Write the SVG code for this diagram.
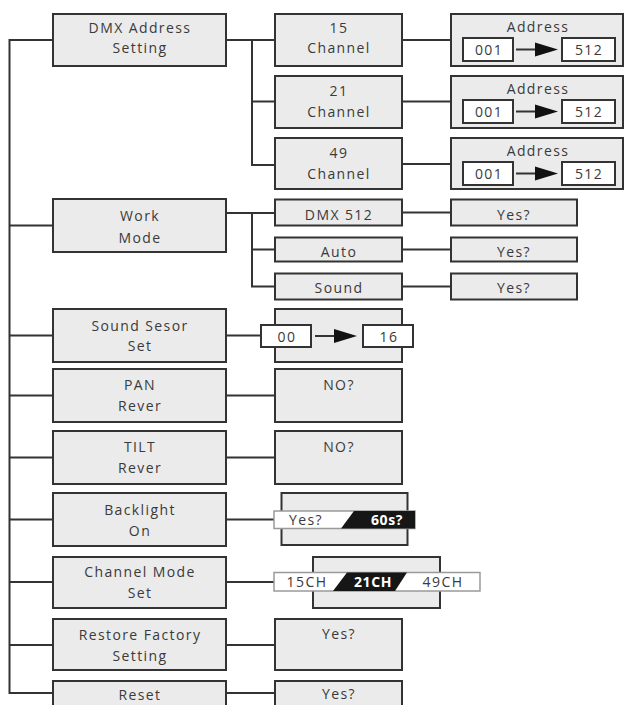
<svg xmlns="http://www.w3.org/2000/svg" width="624" height="705" viewBox="0 0 624 705">
<defs>
<style>
.box{fill:#ebebeb;stroke:#333;stroke-width:2}
.wbox{fill:#fff;stroke:#333;stroke-width:2}
.bar{fill:#fff;stroke:#9a9a9a;stroke-width:1.5}
.ln{stroke:#333;stroke-width:2;fill:none}
.t{font-family:"Open Sans","Liberation Sans",sans-serif;font-size:14px;letter-spacing:1.4px;fill:#3a3a3a;text-anchor:middle}
.tw{fill:#fff;font-weight:bold;letter-spacing:0.6px}
.ah{fill:#111}
</style>
</defs>
<rect width="624" height="705" fill="#fff"/>
<g id="connectors">
<path class="ln" d="M53,40H9.5V693H53"/>
<path class="ln" d="M9.5,225.5H53M9.5,335.5H53M9.5,395.5H53M9.5,457.5H53M9.5,519.5H53M9.5,582H53M9.5,645H53"/>
<path class="ln" d="M226,40H275M252,40V165H275M252,101.5H275"/>
<path class="ln" d="M402,40H451M402,101.5H451M402,164H451"/>
<path class="ln" d="M226,213H275M252,213V286.5H275M252,249.5H275"/>
<path class="ln" d="M402,212.5H451M402,249.5H451M402,286.5H451"/>
<path class="ln" d="M226,335.5H261M226,395.5H275M226,457.5H275M226,519.5H274M226,582H274M226,645H275M226,693H275"/>
</g>
<g id="dmx-address">
<rect class="box" x="53" y="14" width="173" height="52"/>
<text class="t" x="140" y="32.5">DMX Address</text>
<text class="t" x="140" y="53">Setting</text>
</g>
<g id="ch15">
<rect class="box" x="275" y="14" width="127" height="52"/>
<text class="t" x="339" y="33.3">15</text>
<text class="t" x="339" y="53.3">Channel</text>
</g>
<g id="ch21">
<rect class="box" x="275" y="76" width="127" height="52"/>
<text class="t" x="339" y="95.7">21</text>
<text class="t" x="339" y="116.7">Channel</text>
</g>
<g id="ch49">
<rect class="box" x="275" y="138" width="127" height="51"/>
<text class="t" x="339" y="158.3">49</text>
<text class="t" x="339" y="179">Channel</text>
</g>
<g id="addr15">
<rect class="box" x="451" y="14" width="172" height="52"/>
<text class="t" x="538" y="31.7">Address</text>
<rect class="wbox" x="463" y="38" width="50" height="23"/>
<text class="t" x="489" y="55">001</text>
<path class="ln" d="M516,49.5H538"/>
<polygon class="ah" points="535,42.5 558,49.5 535,56.5"/>
<rect class="wbox" x="562" y="38" width="53" height="23"/>
<text class="t" x="589" y="55">512</text>
</g>
<g id="addr21">
<rect class="box" x="451" y="76" width="172" height="52"/>
<text class="t" x="538" y="94">Address</text>
<rect class="wbox" x="463" y="100" width="50" height="23"/>
<text class="t" x="489" y="116.7">001</text>
<path class="ln" d="M516,111.5H538"/>
<polygon class="ah" points="535,104.5 558,111.5 535,118.5"/>
<rect class="wbox" x="562" y="100" width="53" height="23"/>
<text class="t" x="589" y="116.7">512</text>
</g>
<g id="addr49">
<rect class="box" x="451" y="138" width="172" height="51"/>
<text class="t" x="538" y="156">Address</text>
<rect class="wbox" x="463" y="162" width="50" height="23"/>
<text class="t" x="489" y="179">001</text>
<path class="ln" d="M516,173.5H538"/>
<polygon class="ah" points="535,166.5 558,173.5 535,180.5"/>
<rect class="wbox" x="562" y="162" width="53" height="23"/>
<text class="t" x="589" y="179">512</text>
</g>
<g id="work-mode">
<rect class="box" x="53" y="199" width="173" height="53"/>
<text class="t" x="140" y="221.3">Work</text>
<text class="t" x="140" y="242.5">Mode</text>
</g>
<g id="dmx512">
<rect class="box" x="275" y="199.5" width="127" height="26"/>
<text class="t" x="339" y="220">DMX 512</text>
</g>
<g id="auto">
<rect class="box" x="275" y="237.5" width="127" height="24"/>
<text class="t" x="339" y="256.7">Auto</text>
</g>
<g id="sound">
<rect class="box" x="275" y="273.5" width="127" height="26"/>
<text class="t" x="339" y="292.7">Sound</text>
</g>
<g id="yes-dmx">
<rect class="box" x="451" y="199.5" width="126" height="26"/>
<text class="t" x="514" y="220">Yes?</text>
</g>
<g id="yes-auto">
<rect class="box" x="451" y="237.5" width="126" height="24"/>
<text class="t" x="514" y="256.7">Yes?</text>
</g>
<g id="yes-sound">
<rect class="box" x="451" y="273.5" width="126" height="26"/>
<text class="t" x="514" y="292.7">Yes?</text>
</g>
<g id="sound-sensor">
<rect class="box" x="53" y="309" width="173" height="53"/>
<text class="t" x="140" y="331">Sound Sesor</text>
<text class="t" x="140" y="350.7">Set</text>
</g>
<g id="sensor-range">
<rect class="box" x="275" y="309" width="127" height="53"/>
<rect class="wbox" x="261" y="325" width="50" height="22"/>
<text class="t" x="287" y="341.7">00</text>
<path class="ln" d="M315,336H338"/>
<polygon class="ah" points="334,329 357,336 334,343"/>
<rect class="wbox" x="363" y="325" width="50" height="22"/>
<text class="t" x="389" y="341.7">16</text>
</g>
<g id="pan">
<rect class="box" x="53" y="369" width="173" height="53"/>
<text class="t" x="140" y="390">PAN</text>
<text class="t" x="140" y="411">Rever</text>
</g>
<g id="pan-no">
<rect class="box" x="275" y="369" width="127" height="53"/>
<text class="t" x="339" y="390">NO?</text>
</g>
<g id="tilt">
<rect class="box" x="53" y="431" width="173" height="53"/>
<text class="t" x="140" y="452.3">TILT</text>
<text class="t" x="140" y="473.3">Rever</text>
</g>
<g id="tilt-no">
<rect class="box" x="275" y="431" width="127" height="53"/>
<text class="t" x="339" y="452.3">NO?</text>
</g>
<g id="backlight">
<rect class="box" x="53" y="493" width="173" height="53"/>
<text class="t" x="140" y="515">Backlight</text>
<text class="t" x="140" y="536">On</text>
</g>
<g id="backlight-opt">
<rect class="box" x="281.5" y="493" width="126" height="52"/>
<rect class="bar" x="274" y="511" width="141" height="17.5"/>
<polygon fill="#161616" points="341,528.5 354,511 415,511 415,528.5"/>
<text class="t" x="306" y="524.5">Yes?</text>
<text class="t tw" x="387" y="524.5">60s?</text>
</g>
<g id="channel-mode">
<rect class="box" x="53" y="557" width="173" height="51"/>
<text class="t" x="140" y="577.3">Channel Mode</text>
<text class="t" x="140" y="598.3">Set</text>
</g>
<g id="channel-opt">
<rect class="box" x="313" y="557" width="127" height="51"/>
<rect class="bar" x="274" y="572.5" width="206" height="18.5"/>
<polygon fill="#161616" points="333,591 347,572.5 407,572.5 395,591"/>
<text class="t" x="307" y="587">15CH</text>
<text class="t tw" x="373" y="587">21CH</text>
<text class="t" x="443" y="587">49CH</text>
</g>
<g id="restore">
<rect class="box" x="53" y="619" width="173" height="51"/>
<text class="t" x="140" y="640">Restore Factory</text>
<text class="t" x="140" y="661">Setting</text>
</g>
<g id="restore-yes">
<rect class="box" x="275" y="619" width="127" height="51"/>
<text class="t" x="339" y="639.3">Yes?</text>
</g>
<g id="reset">
<rect class="box" x="53" y="681" width="173" height="52"/>
<text class="t" x="140" y="700">Reset</text>
</g>
<g id="reset-yes">
<rect class="box" x="275" y="681" width="127" height="52"/>
<text class="t" x="339" y="699">Yes?</text>
</g>
</svg>
